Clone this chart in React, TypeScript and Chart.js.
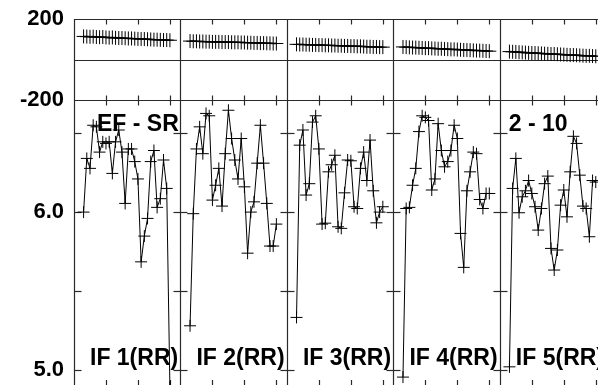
import React, { useEffect, useRef } from "react";
import { Chart, registerables } from "chart.js";

Chart.register(...registerables);

// ---- data ----
const panelLabels = ["IF 1(RR)", "IF 2(RR)", "IF 3(RR)", "IF 4(RR)", "IF 5(RR)"];
const cornerLabels = [
  { panel: 0, text: "EF - SR" },
  { panel: 4, text: "2 - 10" },
];
const xTickValues = [10, 20, 30];
const bottomTickValues = [5.0, 5.5, 6.0, 6.5];
const bottomLabeledTicks = [5.0, 6.0];
const topTickValues = [-200, 200];

const top1 = [114, 113, 112, 113, 111, 110, 111, 109, 108, 109, 107, 106, 106, 105, 104, 104, 103, 102, 101, 101, 100, 99, 98, 98, 97, 96, 96, 95];
const top2 = [91, 90, 90, 89, 89, 88, 88, 87, 87, 87, 86, 86, 86, 85, 85, 85, 84, 84, 83, 83, 82, 82, 81, 81, 80, 80, 79, 79];
const top3 = [75, 74, 74, 73, 73, 72, 72, 71, 71, 70, 70, 69, 69, 68, 68, 67, 67, 66, 66, 65, 65, 64, 63, 63, 62, 62, 61, 61];
const top4 = [62, 61, 60, 59, 59, 58, 57, 56, 56, 55, 54, 53, 53, 52, 51, 50, 50, 49, 48, 47, 47, 46, 45, 44, 44, 43, 42, 41];
const top5 = [39, 38, 37, 36, 35, 34, 33, 32, 32, 31, 30, 29, 28, 27, 27, 26, 25, 24, 23, 22, 22, 21, 20, 19, 18, 18, 17, 16];

const bot1 = [6.0, 6.34, 6.277, 6.55, 6.54, 6.38, 6.445, 6.435, 6.445, 6.245, 6.445, 6.52, 6.38, 6.055, 6.4, 6.4, 6.32, 6.21, 5.685, 5.848, 5.96, 6.32, 6.39, 6.03, 6.085, 6.33, 6.15, 4.89];
const bot2 = [5.28, 5.99, 6.4, 6.54, 6.37, 6.625, 6.61, 6.076, 6.17, 6.277, 6.038, 6.37, 6.645, 6.466, 6.33, 6.21, 6.466, 6.16, 5.74, 6.0, 6.065, 6.31, 6.55, 6.31, 6.055, 5.785, 5.785, 5.924];
const bot3 = [5.333, 6.424, 6.52, 6.108, 6.18, 6.57, 6.61, 6.4, 5.924, 5.93, 6.255, 6.3, 6.36, 5.907, 5.897, 6.122, 6.33, 6.325, 6.034, 6.023, 6.277, 6.38, 6.2, 6.456, 6.135, 5.932, 6.0, 6.034];
const bot4 = [4.955, 6.023, 6.03, 6.17, 6.277, 6.51, 6.61, 6.6, 6.58, 6.14, 6.21, 6.56, 6.39, 6.287, 6.32, 6.39, 6.55, 6.466, 5.865, 5.65, 6.135, 6.255, 6.38, 6.37, 6.08, 6.023, 6.118, 6.118];
const bot5 = [5.02, 6.15, 6.34, 5.996, 6.097, 6.135, 6.2, 6.118, 6.034, 5.886, 6.023, 6.18, 6.228, 5.77, 5.633, 5.76, 6.044, 6.14, 5.97, 6.255, 6.48, 6.435, 6.234, 6.038, 6.023, 5.844, 6.2, 6.19];

const topSeries = [top1, top2, top3, top4, top5];
const bottomSeries = [bot1, bot2, bot3, bot4, bot5];

// sample numbering within each panel
const PANEL_SPAN = 33.3;
const FIRST_SAMPLE = 3;
const X_MAX = 163.9;

const FONT_FAMILY = "'Liberation Sans', Arial, Helvetica, sans-serif";

function toPoints(values: number[], panel: number) {
  return values.map((v, i) => ({ x: panel * PANEL_SPAN + FIRST_SAMPLE + i, y: v }));
}

const framePlugin = {
  id: "framePlugin",
  beforeDatasetsDraw(chart: any) {
    const { ctx, chartArea: a, scales } = chart;
    const xs = scales.x;
    const yT = scales.yTop;
    const yB = scales.yBot;
    const r = (v: number) => Math.round(v) + 0.5;
    ctx.save();
    ctx.strokeStyle = "#2a2a2a";
    ctx.lineWidth = 1.2;
    const line = (x1: number, y1: number, x2: number, y2: number) => {
      ctx.beginPath();
      ctx.moveTo(x1, y1);
      ctx.lineTo(x2, y2);
      ctx.stroke();
    };
    const top = r(a.top);
    const mid = r(yT.bottom);
    const bottom = a.bottom;
    const zero = r(yT.getPixelForValue(0));
    line(a.left, top, a.right, top);
    line(a.left, zero, a.right, zero);
    line(a.left, mid, a.right, mid);

    for (let k = 0; k <= panelLabels.length; k++) {
      const px = r(xs.getPixelForValue(k * PANEL_SPAN));
      if (px > a.right + 1) continue;
      line(px, a.top, px, bottom);
      for (const t of bottomTickValues) {
        const py = r(yB.getPixelForValue(t));
        if (k === 0) line(px, py, px + 7, py);
        else line(px - 7, py, px + 7, py);
      }
    }
    for (let k = 0; k < panelLabels.length; k++) {
      for (const t of xTickValues) {
        const px = r(xs.getPixelForValue(k * PANEL_SPAN + t));
        if (px > a.right) continue;
        line(px, top, px, top + 5);
        line(px, mid - 5, px, mid + 5);
        line(px, bottom - 5, px, bottom);
      }
    }
    ctx.restore();
  },
  afterDatasetsDraw(chart: any) {
    const { ctx, chartArea: a, scales } = chart;
    const xs = scales.x;
    const yB = scales.yBot;
    ctx.save();
    ctx.fillStyle = "#000";
    ctx.font = `bold 23px ${FONT_FAMILY}`;
    ctx.textBaseline = "middle";
    ctx.textAlign = "left";
    panelLabels.forEach((label, k) => {
      const px = xs.getPixelForValue(k * PANEL_SPAN);
      ctx.fillText(label, px + 16, a.bottom - 26);
    });
    cornerLabels.forEach(({ panel, text }) => {
      const px = xs.getPixelForValue(panel * PANEL_SPAN);
      ctx.fillText(text, px + (panel === 0 ? 23 : 9), yB.top + 25);
    });
    ctx.restore();
  },
};

export default function App() {
  const canvasRef = useRef<HTMLCanvasElement | null>(null);

  useEffect(() => {
    if (!canvasRef.current) return;
    const datasets: any[] = [];
    topSeries.forEach((vals, k) => {
      datasets.push({
        data: toPoints(vals, k),
        yAxisID: "yTop",
        borderColor: "#000",
        borderWidth: 1.5,
        pointStyle: "cross",
        pointRadius: 7,
        pointBorderColor: "#000",
        pointBorderWidth: 1,
        pointHoverRadius: 7,
        fill: false,
        tension: 0,
      });
    });
    bottomSeries.forEach((vals, k) => {
      datasets.push({
        data: toPoints(vals, k),
        yAxisID: "yBot",
        borderColor: "#000",
        borderWidth: 1,
        pointStyle: "cross",
        pointRadius: 6,
        pointBorderColor: "#000",
        pointBorderWidth: 1,
        pointHoverRadius: 6,
        fill: false,
        tension: 0,
      });
    });

    const tickFont = { family: FONT_FAMILY, size: 22, weight: "bold" as const };

    const chart = new Chart(canvasRef.current, {
      type: "line",
      data: { datasets },
      plugins: [framePlugin],
      options: {
        animation: false,
        responsive: true,
        maintainAspectRatio: false,
        layout: { autoPadding: false, padding: { top: 19, left: 0, right: 0, bottom: 0 } },
        plugins: { legend: { display: false }, tooltip: { enabled: false } },
        events: [],
        scales: {
          x: {
            type: "linear",
            min: 0,
            max: X_MAX,
            display: false,
          },
          yBot: {
            type: "linear",
            position: "left",
            stack: "v",
            stackWeight: 285,
            min: 4.905,
            max: 6.71,
            grid: { display: false, drawTicks: false },
            border: { display: false },
            afterBuildTicks: (scale: any) => {
              scale.ticks = bottomTickValues.map((v) => ({ value: v }));
            },
            afterFit: (scale: any) => {
              scale.width = 74;
              scale.paddingTop = 0;
              scale.paddingBottom = 0;
            },
            ticks: {
              font: tickFont,
              color: "#000",
              padding: 10,
              autoSkip: false,
              callback: (v: any) => (bottomLabeledTicks.includes(Number(v)) ? Number(v).toFixed(1) : ""),
            },
          },
          yTop: {
            type: "linear",
            position: "left",
            stack: "v",
            stackWeight: 81,
            min: -200,
            max: 200,
            grid: { display: false, drawTicks: false },
            border: { display: false },
            afterBuildTicks: (scale: any) => {
              scale.ticks = topTickValues.map((v) => ({ value: v }));
            },
            afterFit: (scale: any) => {
              scale.width = 74;
              scale.paddingTop = 0;
              scale.paddingBottom = 0;
            },
            ticks: {
              font: tickFont,
              color: "#000",
              padding: 10,
              autoSkip: false,
              callback: (v: any) => String(v),
            },
          },
        },
      } as any,
    });
    return () => chart.destroy();
  }, []);

  return (
    <div style={{ position: "fixed", left: 0, top: 0, width: 598, height: 385, overflow: "hidden", background: "#fff" }}>
      <canvas ref={canvasRef} />
    </div>
  );
}
